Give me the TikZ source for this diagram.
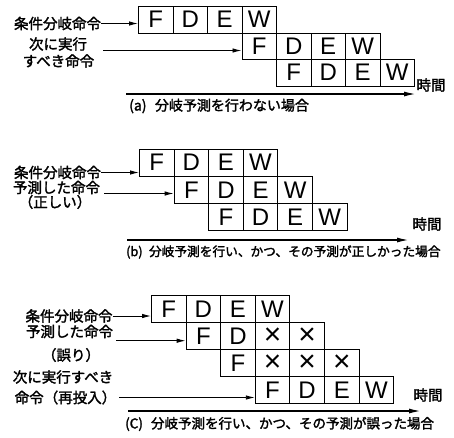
\documentclass[tikz,border=0pt]{standalone}
\usepackage{fontspec}
\setmainfont{Noto Sans CJK JP}[FakeBold=2]
\newfontfamily\latinf{Liberation Sans}
\newfontfamily\monof{Liberation Mono}
\usetikzlibrary{arrows.meta}
\newcommand{\xmark}{\raisebox{-1pt}{\monof\fontsize{30}{30}\selectfont\texttimes}}
\begin{document}
\begin{tikzpicture}[x=1pt,y=-1pt,
  cell/.style={draw, line width=0.9pt, inner sep=0pt, anchor=north west,
    minimum width=34.6pt, minimum height=27.1pt,
    font=\latinf\fontsize{24}{24}\selectfont},
  lab/.style={font=\fontsize{14.5}{16}\selectfont, inner sep=0pt},
  captxt/.style={inner sep=0pt, anchor=west},
  ptr/.style={line width=0.9pt, -{Latex[length=9pt,width=4.5pt]}},
  tarr/.style={line width=1.5pt, -{Latex[length=12pt,width=5pt]}}]
\useasboundingbox (0,0) rectangle (454,437);

% ---------------- (a)
\foreach \t [count=\i from 0] in {F,D,E,W}{
  \node[cell, minimum width=34.5pt, minimum height=26.5pt] (a1\i) at (138+\i*34.5, 6) {\t};
  \node[cell, minimum width=34.5pt, minimum height=26.5pt] (a2\i) at (138+3*34.5+\i*34.5, 32.5) {\t};
  \node[cell, minimum width=34.5pt, minimum height=26.5pt] (a3\i) at (138+4*34.5+\i*34.5, 59) {\t};
}
\node[lab] (la1) at (57.5,23.5) {条件分岐命令};
\node[lab] (la2) at (58,44) {次に実行};
\node[lab] (la3) at (58.5,61) {すべき命令};
\draw[ptr] (la1.east) -- (la1.east -| a10.west);
\coordinate (sa2) at (103,50.5);
\draw[ptr] (sa2) -- (sa2 -| a20.west);
\coordinate (ta0) at (126,94);
\coordinate (ta1) at (416,94);
\draw[tarr] (ta0) -- (ta1);
\node[lab] (tja) at (431,85) {時間};
\node[captxt, font=\fontsize{14}{16}\selectfont] (capa) at (129,106) {(a)\hspace{0.6em}分岐予測を行わない場合};

% ---------------- (b)
\foreach \t [count=\i from 0] in {F,D,E,W}{
  \node[cell, minimum height=27.3pt] (b1\i) at (139+\i*34.6, 148.5) {\t};
  \node[cell, minimum height=27.3pt] (b2\i) at (139+34.6+\i*34.6, 175.8) {\t};
  \node[cell, minimum height=27.3pt] (b3\i) at (139+2*34.6+\i*34.6, 203.1) {\t};
}
\node[lab] (lb1) at (57.5,172.5) {条件分岐命令};
\node[lab] (lb2) at (56.5,187.5) {予測した命令};
\node[lab] (lb3) at (55,202) {（正しい）};
\draw[ptr] (lb1.east) -- (lb1.east -| b10.west);
\coordinate (sb2) at (104,193.5);
\draw[ptr] (sb2) -- (sb2 -| b20.west);
\coordinate (tb0) at (127,240);
\coordinate (tb1) at (409,240);
\draw[tarr] (tb0) -- (tb1);
\node[lab] (tjb) at (427,224) {時間};
\node[captxt, font=\fontsize{12.7}{15}\selectfont] (capb) at (126,252) {(b)\hspace{0.5em}分岐予測を行い、かつ、その予測が正しかった場合};

% ---------------- (c)
\foreach \t [count=\i from 0] in {F,D,E,W}{
  \node[cell] (c1\i) at (151+\i*34.6, 295) {\t};
  \node[cell] (c4\i) at (151+3*34.6+\i*34.6, 376.3) {\t};
}
\foreach \t [count=\i from 0] in {F,D,\xmark,\xmark}{
  \node[cell] (c2\i) at (151+34.6+\i*34.6, 322.1) {\t};
}
\foreach \t [count=\i from 0] in {F,\xmark,\xmark,\xmark}{
  \node[cell] (c3\i) at (151+2*34.6+\i*34.6, 349.2) {\t};
}
\node[lab] (lc1) at (69,316) {条件分岐命令};
\node[lab] (lc2) at (69.5,331.5) {予測した命令};
\node[lab] (lc3) at (71,355) {（誤り）};
\node[lab] (lc4) at (63,377) {次に実行すべき};
\node[lab] (lc5) at (65.5,397.5) {命令（再投入）};
\draw[ptr] (lc1.east) -- (lc1.east -| c10.west);
\coordinate (sc2) at (116,340.7);
\draw[ptr] (sc2) -- (sc2 -| c20.west);
\draw[ptr] ([xshift=3pt]lc5.east) -- (lc5.east -| c40.west);
\coordinate (tc0) at (128,411);
\coordinate (tc1) at (421,411);
\draw[tarr] (tc0) -- (tc1);
\node[lab] (tjc) at (428,395) {時間};
\node[captxt, font=\fontsize{13.5}{15}\selectfont] (capc) at (125,424) {(C)\hspace{0.6em}分岐予測を行い、かつ、その予測が誤った場合};
\end{tikzpicture}
\end{document}
